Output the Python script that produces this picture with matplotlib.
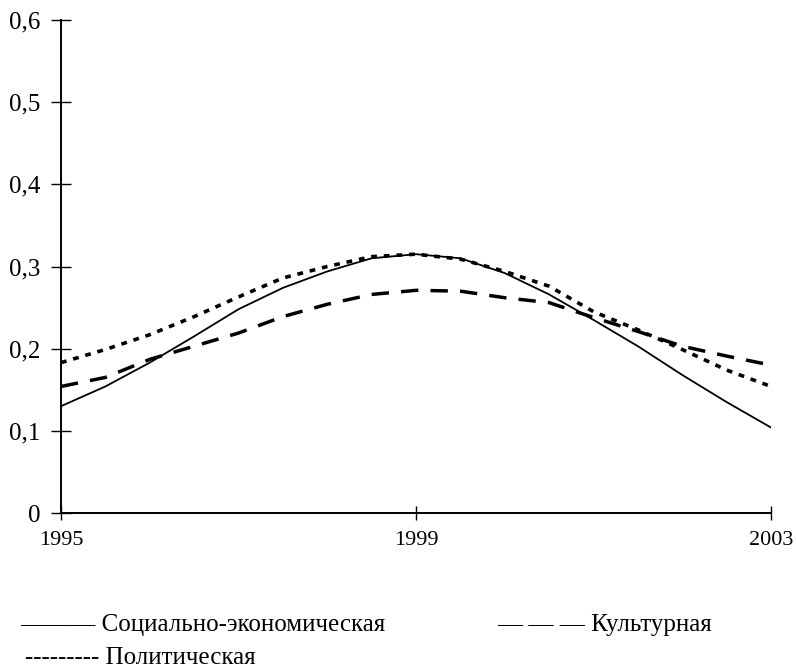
import matplotlib
matplotlib.use("Agg")
import matplotlib.pyplot as plt

years = [1995, 1995.5, 1996, 1996.5, 1997, 1997.5, 1998, 1998.5, 1999,
         1999.5, 2000, 2000.5, 2001, 2001.5, 2002, 2002.5, 2003]
socio_econ = [0.130, 0.154, 0.183, 0.215, 0.248, 0.274, 0.294, 0.310, 0.315,
              0.310, 0.292, 0.266, 0.235, 0.203, 0.168, 0.135, 0.104]
political = [0.183, 0.199, 0.217, 0.239, 0.263, 0.286, 0.300, 0.312, 0.315,
             0.309, 0.294, 0.276, 0.245, 0.223, 0.199, 0.174, 0.154]
cultural = [0.154, 0.165, 0.187, 0.203, 0.219, 0.239, 0.254, 0.266, 0.271,
            0.270, 0.262, 0.256, 0.238, 0.221, 0.203, 0.191, 0.180]

x_ticks = [1995, 1999, 2003]
y_ticks = [0, 0.1, 0.2, 0.3, 0.4, 0.5, 0.6]
y_labels = ["0", "0,1", "0,2", "0,3", "0,4", "0,5", "0,6"]
legend_labels = ["Социально-экономическая", "Культурная", "Политическая"]

serif = ["Liberation Serif", "DejaVu Serif"]

fig = plt.figure(figsize=(7.96, 6.68), dpi=100)
ax = fig.add_axes([61/796, 1 - 513/668, (771 - 61)/796, (513 - 20)/668])

ax.plot(years, socio_econ, color="black", lw=1.3, solid_capstyle="round")
ax.plot(years, cultural, color="black", lw=2.5, linestyle=(0, (5, 3.5)))
ax.plot(years, political, color="black", lw=2.6, linestyle=(0, (1.6, 1.9)))

ax.set_xlim(1995, 2003)
ax.set_ylim(0, 0.6)
ax.set_xticks(x_ticks)
ax.set_xticklabels([str(t) for t in x_ticks], fontfamily=serif, fontsize=16)
ax.set_yticks(y_ticks)
ax.set_yticklabels(y_labels, fontfamily=serif, fontsize=18)
for s in ["top", "right"]:
    ax.spines[s].set_visible(False)
for s in ["left", "bottom"]:
    ax.spines[s].set_linewidth(1.4)
ax.tick_params(axis="y", direction="inout", length=14, width=1, pad=8)
ax.tick_params(axis="x", direction="inout", length=10, width=1, pad=8)

fig.text(20/796, 1 - 631/668, "——— " + legend_labels[0], fontfamily=serif,
         fontsize=18, va="baseline", ha="left")
fig.text(497/796, 1 - 631/668, "— — — " + legend_labels[1], fontfamily=serif,
         fontsize=18, va="baseline", ha="left")
fig.text(25/796, 1 - 664/668, "--------- " + legend_labels[2], fontfamily=serif,
         fontsize=18, va="baseline", ha="left")

fig.savefig("out.png", dpi=100)
